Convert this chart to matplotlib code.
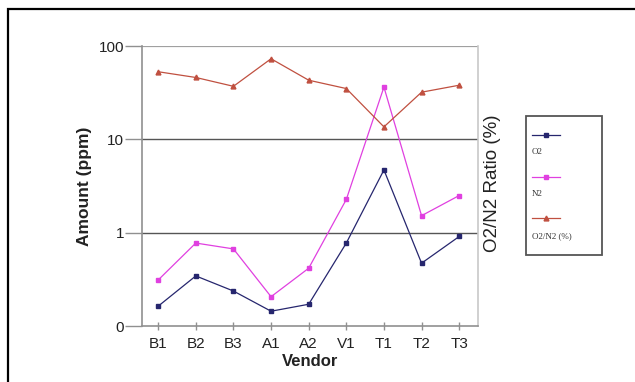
import matplotlib
matplotlib.use("Agg")
import matplotlib.pyplot as plt
from matplotlib.lines import Line2D
from matplotlib.patches import Rectangle
from matplotlib.ticker import FixedLocator, FixedFormatter, NullLocator

plt.rcParams['font.family'] = ['Liberation Sans', 'DejaVu Sans']

vendors = ["B1", "B2", "B3", "A1", "A2", "V1", "T1", "T2", "T3"]
o2 = [0.163, 0.344, 0.237, 0.144, 0.171, 0.774, 4.7, 0.471, 0.91]
n2 = [0.311, 0.774, 0.67, 0.206, 0.416, 2.27, 36.3, 1.52, 2.5]
ratio = [53, 46, 37, 73, 43, 35, 13.6, 32, 38]
series_labels = ["O2", "N2", "O2/N2 (%)"]
ytick_vals = [0.1, 1, 10, 100]
ytick_labels = ["0", "1", "10", "100"]

c_o2 = "#26266e"
c_n2 = "#e040e0"
c_ratio = "#c05040"

W, H = 635, 382
fig = plt.figure(figsize=(W / 100, H / 100), dpi=100)

# outer border (top and left visible)
fig.add_artist(Rectangle((8 / W, -0.1), 1.2, (H - 9) / H + 0.1, transform=fig.transFigure,
                         fill=False, edgecolor="black", linewidth=1.6))

ax = fig.add_axes([142 / W, (H - 326) / H, (478 - 142) / W, (326 - 46) / H])
x = list(range(len(vendors)))

ax.set_yscale("log")
ax.set_ylim(0.1, 100)
ax.set_xlim(-0.43, 8.5)

for yv, col, lw in [(1, "#555555", 1.0), (10, "#555555", 1.0), (100, "#a0a0a0", 1.6)]:
    ax.axhline(yv, color=col, lw=lw, zorder=1)

ax.plot(x, o2, color=c_o2, lw=0.9, marker="s", ms=3.5, zorder=3)
ax.plot(x, n2, color=c_n2, lw=0.9, marker="s", ms=3.5, zorder=3)
ax.plot(x, ratio, color=c_ratio, lw=0.9, marker="^", ms=3.5, zorder=3)

ax.yaxis.set_major_locator(FixedLocator(ytick_vals))
ax.yaxis.set_major_formatter(FixedFormatter(ytick_labels))
ax.yaxis.set_minor_locator(NullLocator())
ax.set_xticks(x)
ax.set_xticklabels(vendors)

ax.tick_params(axis="y", length=12, width=1, color="#909090", labelsize=11, pad=1, labelcolor="#222222")
ax.tick_params(axis="x", direction="inout", length=6, width=1, color="#909090", labelsize=11, pad=5,
               labelcolor="#222222")

for s in ["left", "bottom"]:
    ax.spines[s].set_color("#909090")
    ax.spines[s].set_linewidth(1.2)
ax.spines["top"].set_visible(False)
ax.spines["right"].set_color("#c8c8c8")
ax.spines["right"].set_linewidth(1.2)

ax.set_xlabel("Vendor", fontsize=12, fontweight="bold", labelpad=2, color="#222222")
ax.set_ylabel("Amount (ppm)", fontsize=12.5, fontweight="bold", labelpad=5, color="#222222")
ax.text(1.042, 0.51, "O2/N2 Ratio (%)", transform=ax.transAxes, rotation=90, fontsize=13.5,
        ha="center", va="center", color="#222222")

# legend box
lx0, lx1, ly0, ly1 = 526, 602, 116, 255
fig.add_artist(Rectangle((lx0 / W, (H - ly1) / H), (lx1 - lx0) / W, (ly1 - ly0) / H,
                         transform=fig.transFigure, fill=False, edgecolor="#555555", linewidth=1.3))
rows = [(135, 152), (177, 194), (218, 236)]
for (ym, yt), col, mk, lab in zip(rows, [c_o2, c_n2, c_ratio], ["s", "s", "^"], series_labels):
    fig.add_artist(Line2D([532 / W, 560 / W], [(H - ym) / H] * 2, transform=fig.transFigure,
                          color=col, lw=0.9))
    fig.add_artist(Line2D([546 / W], [(H - ym) / H], transform=fig.transFigure,
                          color=col, marker=mk, ms=3.5, lw=0))
    fig.text(532 / W, (H - yt) / H, lab, fontsize=6.5, family=["Liberation Serif", "DejaVu Serif"],
             ha="left", va="center", color="#333333")

fig.savefig("out.png", dpi=100)
